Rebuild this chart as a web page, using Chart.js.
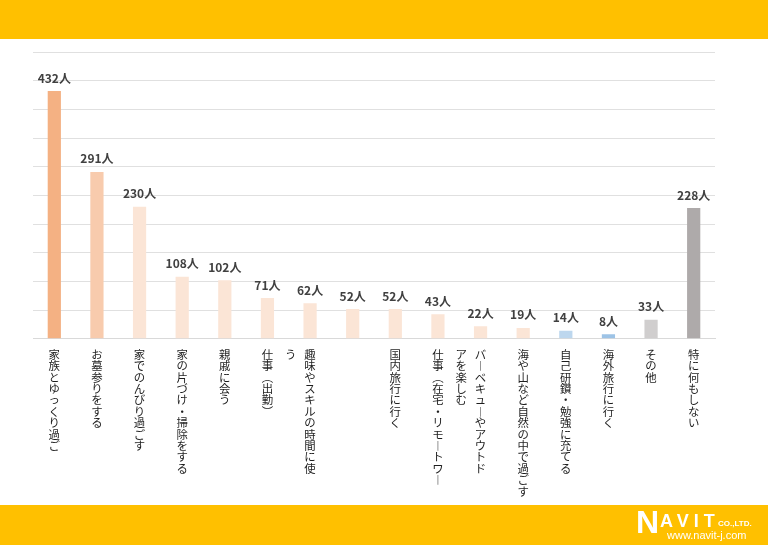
<!DOCTYPE html>
<html>
<head>
<meta charset="utf-8">
<script src="https://cdn.jsdelivr.net/npm/chart.js@4.4.1/dist/chart.umd.min.js"></script>
<style>
  html, body { margin: 0; padding: 0; background: #fff; }
  #wrap { position: relative; width: 768px; height: 546px; overflow: hidden; }
  #myChart { position: absolute; left: 0; top: 0; }
  .band { position: absolute; left: 0; width: 768px; background: #FFC000; }
  #top { top: 0; height: 39px; }
  #bottom { top: 505px; height: 40px; }
  #logo { position: absolute; left: 636px; top: 507px; color: #fff; font-family: "Liberation Sans", Arial, sans-serif; font-weight: bold; }
  #logo .n { position: absolute; left: 0; top: 0; font-size: 32px; line-height: 30px; }
  #logo .avit { position: absolute; left: 24px; top: 4px; font-size: 18px; letter-spacing: 5px; line-height: 20px; }
  #logo .co { position: absolute; left: 82px; top: 12px; font-size: 8px; white-space: nowrap; }
  #logo .url { position: absolute; left: 31px; top: 22px; font-size: 11px; font-weight: normal; white-space: nowrap; }
</style>
</head>
<body>
<div id="wrap">
  <canvas id="myChart" width="768" height="546"></canvas>
  <div class="band" id="top"></div>
  <div class="band" id="bottom"></div>
  <div id="logo"><span class="n">N</span><span class="avit">AVIT</span><span class="co">CO.,LTD.</span><span class="url">www.navit-j.com</span></div>
</div>
<script>
// categories (columns of the vertical labels, right column first)
var categories = [
    ["家族とゆっくり過ご"],
    ["お墓参りをする"],
    ["家でのんびり過ごす"],
    ["家の片づけ・掃除をする"],
    ["親戚に会う"],
    ["仕事（出勤）"],
    ["趣味やスキルの時間に使", "う"],
    [""],
    ["国内旅行に行く"],
    ["仕事（在宅・リモートワー"],
    ["バーベキューやアウトド", "アを楽しむ"],
    ["海や山など自然の中で過ごす"],
    ["自己研鑽・勉強に充てる"],
    ["海外旅行に行く"],
    ["その他"],
    ["特に何もしない"]
];
var values = [432, 291, 230, 108, 102, 71, 62, 52, 52, 43, 22, 19, 14, 8, 33, 228];
var barColors = ["#F4B183", "#F8CBAD", "#FBE5D6", "#FBE5D6", "#FBE5D6", "#FBE5D6", "#FBE5D6", "#FBE5D6",
                 "#FBE5D6", "#FBE5D6", "#FBE5D6", "#FBE5D6", "#BDD7EE", "#9DC3E6", "#D0CECE", "#AEAAAA"];
var unit = "人";

//vertical text: one char per line
var vmap = { "ー": "︱", "（": "︵", "）": "︶" };
function vchar(c) { return vmap[c] || c; }

function verticalLabel(cols) {
    var right = Array.from(cols[0]);
    if (cols.length == 1) {
        return right.length ? right.map(vchar) : [""];
    }
    var left = Array.from(cols[1]);
    var sep = "\u2002\u2009";
    var lines = [];
    for (var i = 0; i < Math.max(left.length, right.length); i++) {
        var l = left[i] ? vchar(left[i]) : "　";
        var r = right[i] ? vchar(right[i]) : "　";
        lines.push(l + sep + r + sep + "　");
    }
    return lines;
}

var xLabels = categories.map(verticalLabel);

// value labels above bars
var valueLabels = {
    id: "valueLabels",
    afterDatasetsDraw: function (chart) {
        var ctx = chart.ctx;
        var meta = chart.getDatasetMeta(0);
        ctx.save();
        ctx.font = "bold 12px 'Noto Sans CJK JP'";
        ctx.fillStyle = "#404040";
        ctx.textAlign = "center";
        ctx.textBaseline = "bottom";
        meta.data.forEach(function (bar, i) {
            ctx.fillText(values[i] + unit, bar.x, bar.y - 7);
        });
        ctx.restore();
    }
};

new Chart("myChart", {
    type: "bar",
    data: {
        labels: xLabels,
        datasets: [
            {
                backgroundColor: barColors,
                data: values,
                categoryPercentage: 1,
                barPercentage: 0.31
            }
        ]
    },
    options: {
        responsive: false,
        animation: false,
        layout: { padding: { left: 33, right: 53, top: 52, bottom: 39 } },
        plugins: {
            legend: { display: false },
            tooltip: { enabled: false }
        },
        scales: {
            y: {
                min: 0,
                max: 500,
                ticks: { display: false, stepSize: 50 },
                grid: { color: "#E0E0E0", lineWidth: 1, drawTicks: false },
                border: { display: false }
            },
            x: {
                grid: { display: false, drawTicks: false },
                border: { color: "#D9D9D9" },
                ticks: {
                    autoSkip: false,
                    maxRotation: 0,
                    minRotation: 0,
                    padding: 10,
                    color: "#1E1E1E",
                    font: { family: "'Noto Sans CJK JP'", size: 11.4, lineHeight: 1.0 }
                }
            }
        }
    },
    plugins: [valueLabels]
});
</script>
</body>
</html>
